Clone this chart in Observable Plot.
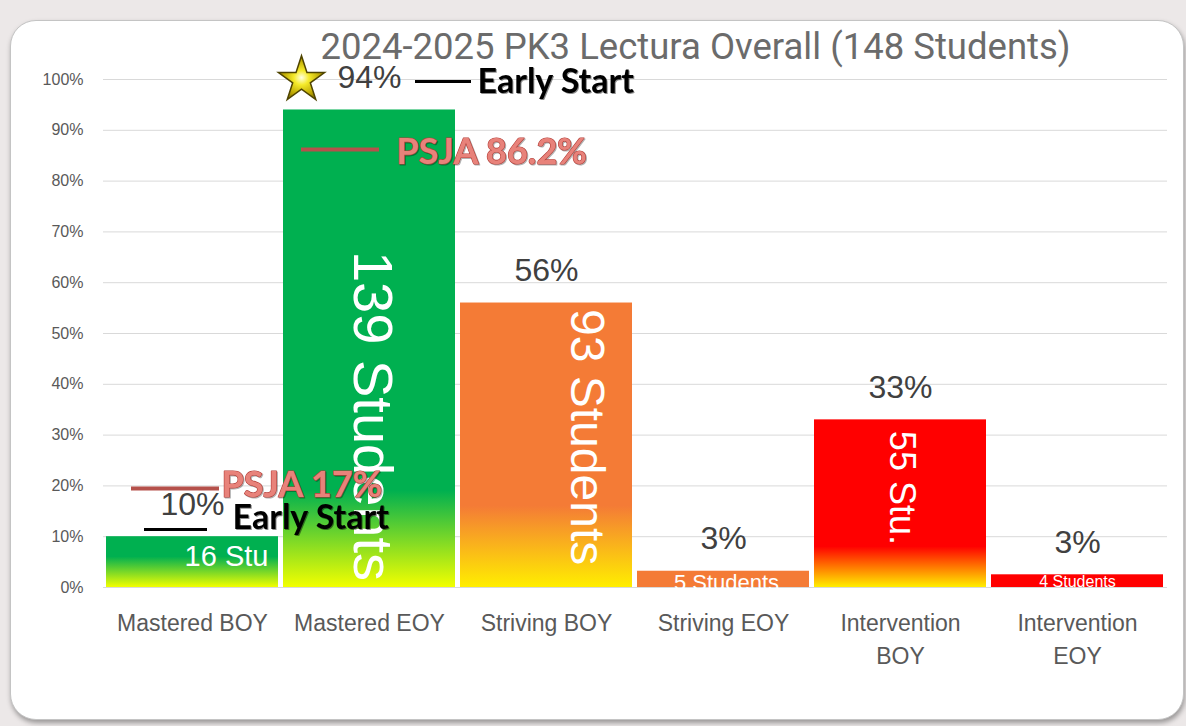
<!DOCTYPE html>
<html>
<head>
<meta charset="utf-8">
<script src="https://cdn.jsdelivr.net/npm/d3@7"></script>
<script src="https://cdn.jsdelivr.net/npm/@observablehq/plot@0.6"></script>
<style>
  html, body { margin: 0; padding: 0; }
  body { width: 1186px; height: 726px; background: #ece8e8; position: relative; overflow: hidden; font-family: "Liberation Sans", Arial, sans-serif; }
  #frame { position: absolute; left: 10px; top: 20px; width: 1172px; height: 698px; background: #ffffff;
           border: 1.5px solid #c4c4c4; border-radius: 26px; box-shadow: 1px 3px 5px rgba(0,0,0,0.35); }
  #chart { position: absolute; left: 0; top: 0; }
  #chart svg { overflow: visible; }
</style>
</head>
<body>
<div id="frame"></div>
<div id="chart"></div>
<script>
// ---- data ----
const title = "2024-2025 PK3 Lectura Overall (148 Students)";
const categories = ["Mastered BOY", "Mastered EOY", "Striving BOY", "Striving EOY", "Intervention BOY", "Intervention EOY"];
const tickLabels = ["Mastered BOY", "Mastered EOY", "Striving BOY", "Striving EOY", "Intervention\nBOY", "Intervention\nEOY"];
const percents = [10, 94, 56, 3.2, 33, 2.5];
const percentLabels = ["10%", "94%", "56%", "3%", "33%", "3%"];
const studentLabels = ["16 Stu", "139 Students", "93 Students", "5 Students", "55 Stu.", "4 Students"];
const yTicks = [0, 10, 20, 30, 40, 50, 60, 70, 80, 90, 100];
// reference annotations
const annotationLabels = ["Early Start", "PSJA 86.2%", "PSJA 17%", "Early Start"];
const annotationValues = [99.6, 86.2, 19.5, 11.4];
const annotationCategories = ["Mastered EOY", "Mastered EOY", "Mastered BOY", "Mastered BOY"];

// ---- styles ----
const barColors = ["#00b050", "#00b050", "#f47b36", "#f47b36", "#ff0000", "#ff0000"];
const baseColors = ["#f2ff00", "#f2ff00", "#ffee00", "#f47b36", "#ffee00", "#ff0000"];
const gradientTop = [6, 19, 16, 0, 8, 0];
const studentStyle = [
  {rotate: 0, fontSize: 29, dx: 34, dy: 29, textAnchor: "middle", lineAnchor: "bottom"},
  {rotate: 90, fontSize: 56, dx: 2, dy: 141, textAnchor: "start", lineAnchor: "middle"},
  {rotate: 90, fontSize: 48, dx: 40, dy: 6, textAnchor: "start", lineAnchor: "middle"},
  {rotate: 0, fontSize: 22, dx: 3, dy: 3, textAnchor: "middle", lineAnchor: "top"},
  {rotate: 90, fontSize: 36, dx: 1, dy: 11, textAnchor: "start", lineAnchor: "middle"},
  {rotate: 0, fontSize: 16, dx: 0, dy: 1, textAnchor: "middle", lineAnchor: "top"}
];
const annotationStyle = [
  {kind: "early", dx: 108, dy: 1, lineDx: 100, insetLeft: 32, insetRight: 84},
  {kind: "psja", dx: 27, dy: 3, lineDx: 0, insetLeft: 18, insetRight: 76},
  {kind: "psja", dx: 29, dy: -3, lineDx: 0, insetLeft: 25, insetRight: 59},
  {kind: "early", dx: 40, dy: -11, lineDx: 0, insetLeft: 38, insetRight: 71}
];

const data = categories.map((c, i) => ({category: c, value: percents[i], label: percentLabels[i], students: studentLabels[i], i}));
const annotations = annotationLabels.map((t, i) => ({text: t, value: annotationValues[i], category: annotationCategories[i], i}));

const marks = [
  Plot.gridY(yTicks, {stroke: "#d9d9d9", strokeOpacity: 1, strokeWidth: 1}),
  Plot.barY(data, {x: "category", y: "value", fill: d => `url(#barGrad${d.i})`}),
  Plot.axisY(yTicks, {tickFormat: d => d + "%", tickSize: 0, tickPadding: 20, fontSize: 16, fill: "#595959", label: null}),
  Plot.axisX({tickFormat: d => tickLabels[categories.indexOf(d)], tickSize: 0, tickPadding: 21, fontSize: 23, lineHeight: 1.4, fill: "#595959", label: null}),
  Plot.text(data, {x: "category", y: "value", text: "label", dy: -32, fontSize: 32, fill: "#404040", fontFamily: "Liberation Sans, Arial, sans-serif"}),
  Plot.text([title], {frameAnchor: "top", text: d => d, dx: 60, dy: -46, fontSize: 36.5, fill: "#6b6b6b", fontFamily: "Roboto, sans-serif"}),
  Plot.dot([data[1]], {x: "category", y: "value", dx: -68, dy: -30, symbol: "star", r: 14.5, fill: "url(#starGrad)", stroke: "#4f4400", strokeWidth: 1.5})
];

data.forEach((d, i) => {
  const s = studentStyle[i];
  marks.push(Plot.text([d], {x: "category", y: "value", text: "students", rotate: s.rotate, fontSize: s.fontSize,
    dx: s.dx, dy: s.dy, textAnchor: s.textAnchor, lineAnchor: s.lineAnchor, fill: "#ffffff",
    fontFamily: "Liberation Sans, Arial, sans-serif"}));
});

annotations.forEach((a, i) => {
  const s = annotationStyle[i];
  const early = s.kind === "early";
  marks.push(Plot.tickY([a], {x: "category", y: "value", dx: s.lineDx, insetLeft: s.insetLeft, insetRight: s.insetRight,
    stroke: early ? "#000000" : "#b5514b", strokeWidth: early ? 3 : 4}));
  marks.push(Plot.text([a], {x: "category", y: "value", text: "text", dx: s.dx, dy: s.dy, textAnchor: "start", lineAnchor: "middle",
    fontFamily: "Lato, Calibri, sans-serif", fontWeight: "bold", fontSize: early ? 34 : 36,
    fill: early ? "#000000" : "#e8827a", stroke: early ? "none" : "#b23d37", strokeWidth: early ? 0 : 1.2,
    className: early ? "early" : "psja"}));
});

const chart = Plot.plot({
  width: 1186,
  height: 726,
  marginTop: 79,
  marginBottom: 139,
  marginLeft: 103,
  marginRight: 19,
  style: {background: "transparent", color: "#595959", fontFamily: "Liberation Sans, Arial, sans-serif"},
  x: {domain: categories, paddingInner: 0.028, paddingOuter: 0.012, axis: null},
  y: {domain: [0, 100], axis: null},
  marks
});

// gradients built from the y scale
const yScale = chart.scale("y");
const svg = d3.select(chart);
const defs = svg.insert("defs", ":first-child");
data.forEach((d, i) => {
  const g = defs.append("linearGradient").attr("id", `barGrad${i}`).attr("gradientUnits", "userSpaceOnUse")
    .attr("x1", 0).attr("x2", 0).attr("y1", yScale.apply(0)).attr("y2", yScale.apply(gradientTop[i]));
  g.append("stop").attr("offset", 0).attr("stop-color", baseColors[i]);
  g.append("stop").attr("offset", 1).attr("stop-color", barColors[i]);
});
const sg = defs.append("radialGradient").attr("id", "starGrad").attr("cx", "50%").attr("cy", "50%").attr("r", "55%");
sg.append("stop").attr("offset", 0).attr("stop-color", "#ffffe0");
sg.append("stop").attr("offset", 0.3).attr("stop-color", "#f5ea2a");
sg.append("stop").attr("offset", 0.75).attr("stop-color", "#b9a300");
sg.append("stop").attr("offset", 1).attr("stop-color", "#6e6200");
svg.selectAll(".early text").style("filter", "drop-shadow(1.5px 1.5px 0.6px rgba(0,0,0,0.45))");
svg.selectAll(".psja text").style("filter", "drop-shadow(1px 1px 0.6px rgba(0,0,0,0.3))");

document.getElementById("chart").appendChild(chart);
</script>
</body>
</html>
